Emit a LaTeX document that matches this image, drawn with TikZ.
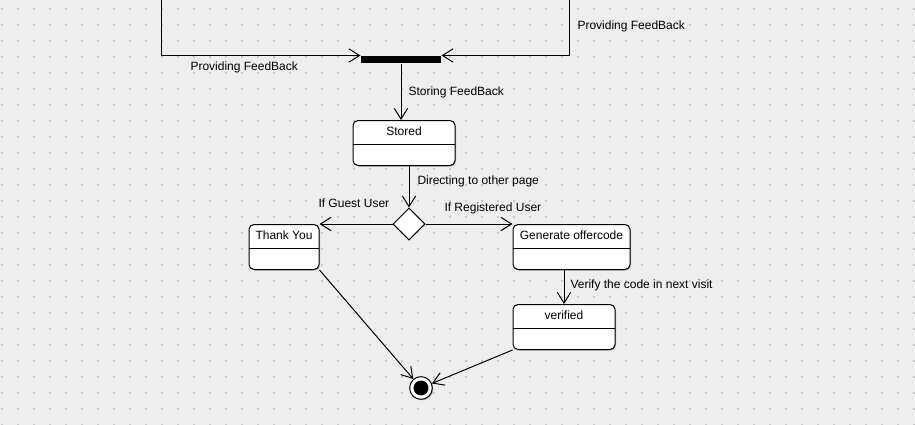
\documentclass[tikz,border=0pt]{standalone}
\usepackage{fontspec}
\setmainfont{Liberation Sans}
\usepackage{tikz}
\usetikzlibrary{shapes.geometric,shadows,arrows.meta}
\definecolor{canvas}{RGB}{238,238,238}
\definecolor{griddot}{RGB}{200,200,200}
\tikzset{>={Straight Barb[length=8pt,width=10pt]}}
\tikzset{
  statebox/.style={shape=rectangle,draw,rounded corners=3.75pt,fill=white,anchor=north,
    inner xsep=2pt,inner ysep=0pt,text height=11pt,text depth=22.75pt,
    drop shadow={shadow xshift=0.75pt,shadow yshift=-0.75pt,fill=gray!60,opacity=1},
    path picture={\draw ([yshift=-18pt]path picture bounding box.north west) -- ([yshift=-18pt]path picture bounding box.north east);}},
  decision/.style={shape=diamond,draw,fill=white,minimum width=24pt,minimum height=24pt,inner sep=0pt},
  forkbar/.style={shape=rectangle,fill=black,minimum width=60pt,minimum height=5.25pt,inner sep=0pt},
  finalstate/.style={shape=circle,draw,fill=white,minimum size=17pt,inner sep=0pt,
    drop shadow={shadow xshift=0.75pt,shadow yshift=-0.75pt,fill=gray!60,opacity=1},
    path picture={\fill[black] (path picture bounding box.center) circle (5.6pt);}},
  lbl/.style={anchor=west,inner sep=0pt}
}

\begin{document}
\begin{tikzpicture}[x=0.75pt,y=-0.75pt,line width=0.75pt,font=\fontsize{9pt}{11pt}\selectfont]

% canvas and dotted grid
\fill[canvas] (0,0) rectangle (915,425);
\useasboundingbox (0,0) rectangle (915,425);
\foreach \gx in {2,18,...,914}
  \foreach \gy in {9,25,...,425}
    \fill[griddot] (\gx-1,\gy-1) rectangle (\gx+1,\gy+1);

% states
\path (401,59.5) node [forkbar] (bar) {};
\path (404,120) node [statebox,minimum width=76.5pt] (stored) {Stored};
\path (409,224) node [decision] (dec) {};
\path (284,224) node [statebox,minimum width=52.5pt] (thank) {Thank You};
\path (571.5,224) node [statebox,minimum width=87.75pt] (gen) {Generate offercode};
\path (564,304) node [statebox,minimum width=76.5pt] (verif) {verified};
\path (421,388) node [finalstate] (final) {};

\coordinate (feedL) at (161,0);
\coordinate (feedR) at (569,0);

% transitions
\draw[->] (feedL) |- (bar.north west);
\draw[->] (feedR) |- (bar.north east);
\draw[->] (bar.south) -- (bar.south |- stored.north);
\draw[->] (dec.north |- stored.south) -- (dec.north);
\draw[->] (dec.west) -- (dec.west -| thank.east);
\draw[->] (dec.east) -- (dec.east -| gen.west);
\draw[->] (verif.north |- gen.south) -- (verif.north);
\draw[->] (thank.south east) -- (final);
\draw[->] (verif.south west) -- (final);

% labels
\path (190,67) node [lbl] (lblfeedL) {Providing FeedBack};
\path (577,26) node [lbl] (lblfeedR) {Providing FeedBack};
\path (408,92) node [lbl] (lblstore) {Storing FeedBack};
\path (417,181) node [lbl] (lbldirect) {Directing to other page};
\path (318,203) node [lbl] (lblguest) {If Guest User};
\path (444,208) node [lbl] (lblreg) {If Registered User};
\path (570,285) node [lbl] (lblverify) {Verify the code in next visit};

\end{tikzpicture}
\end{document}
